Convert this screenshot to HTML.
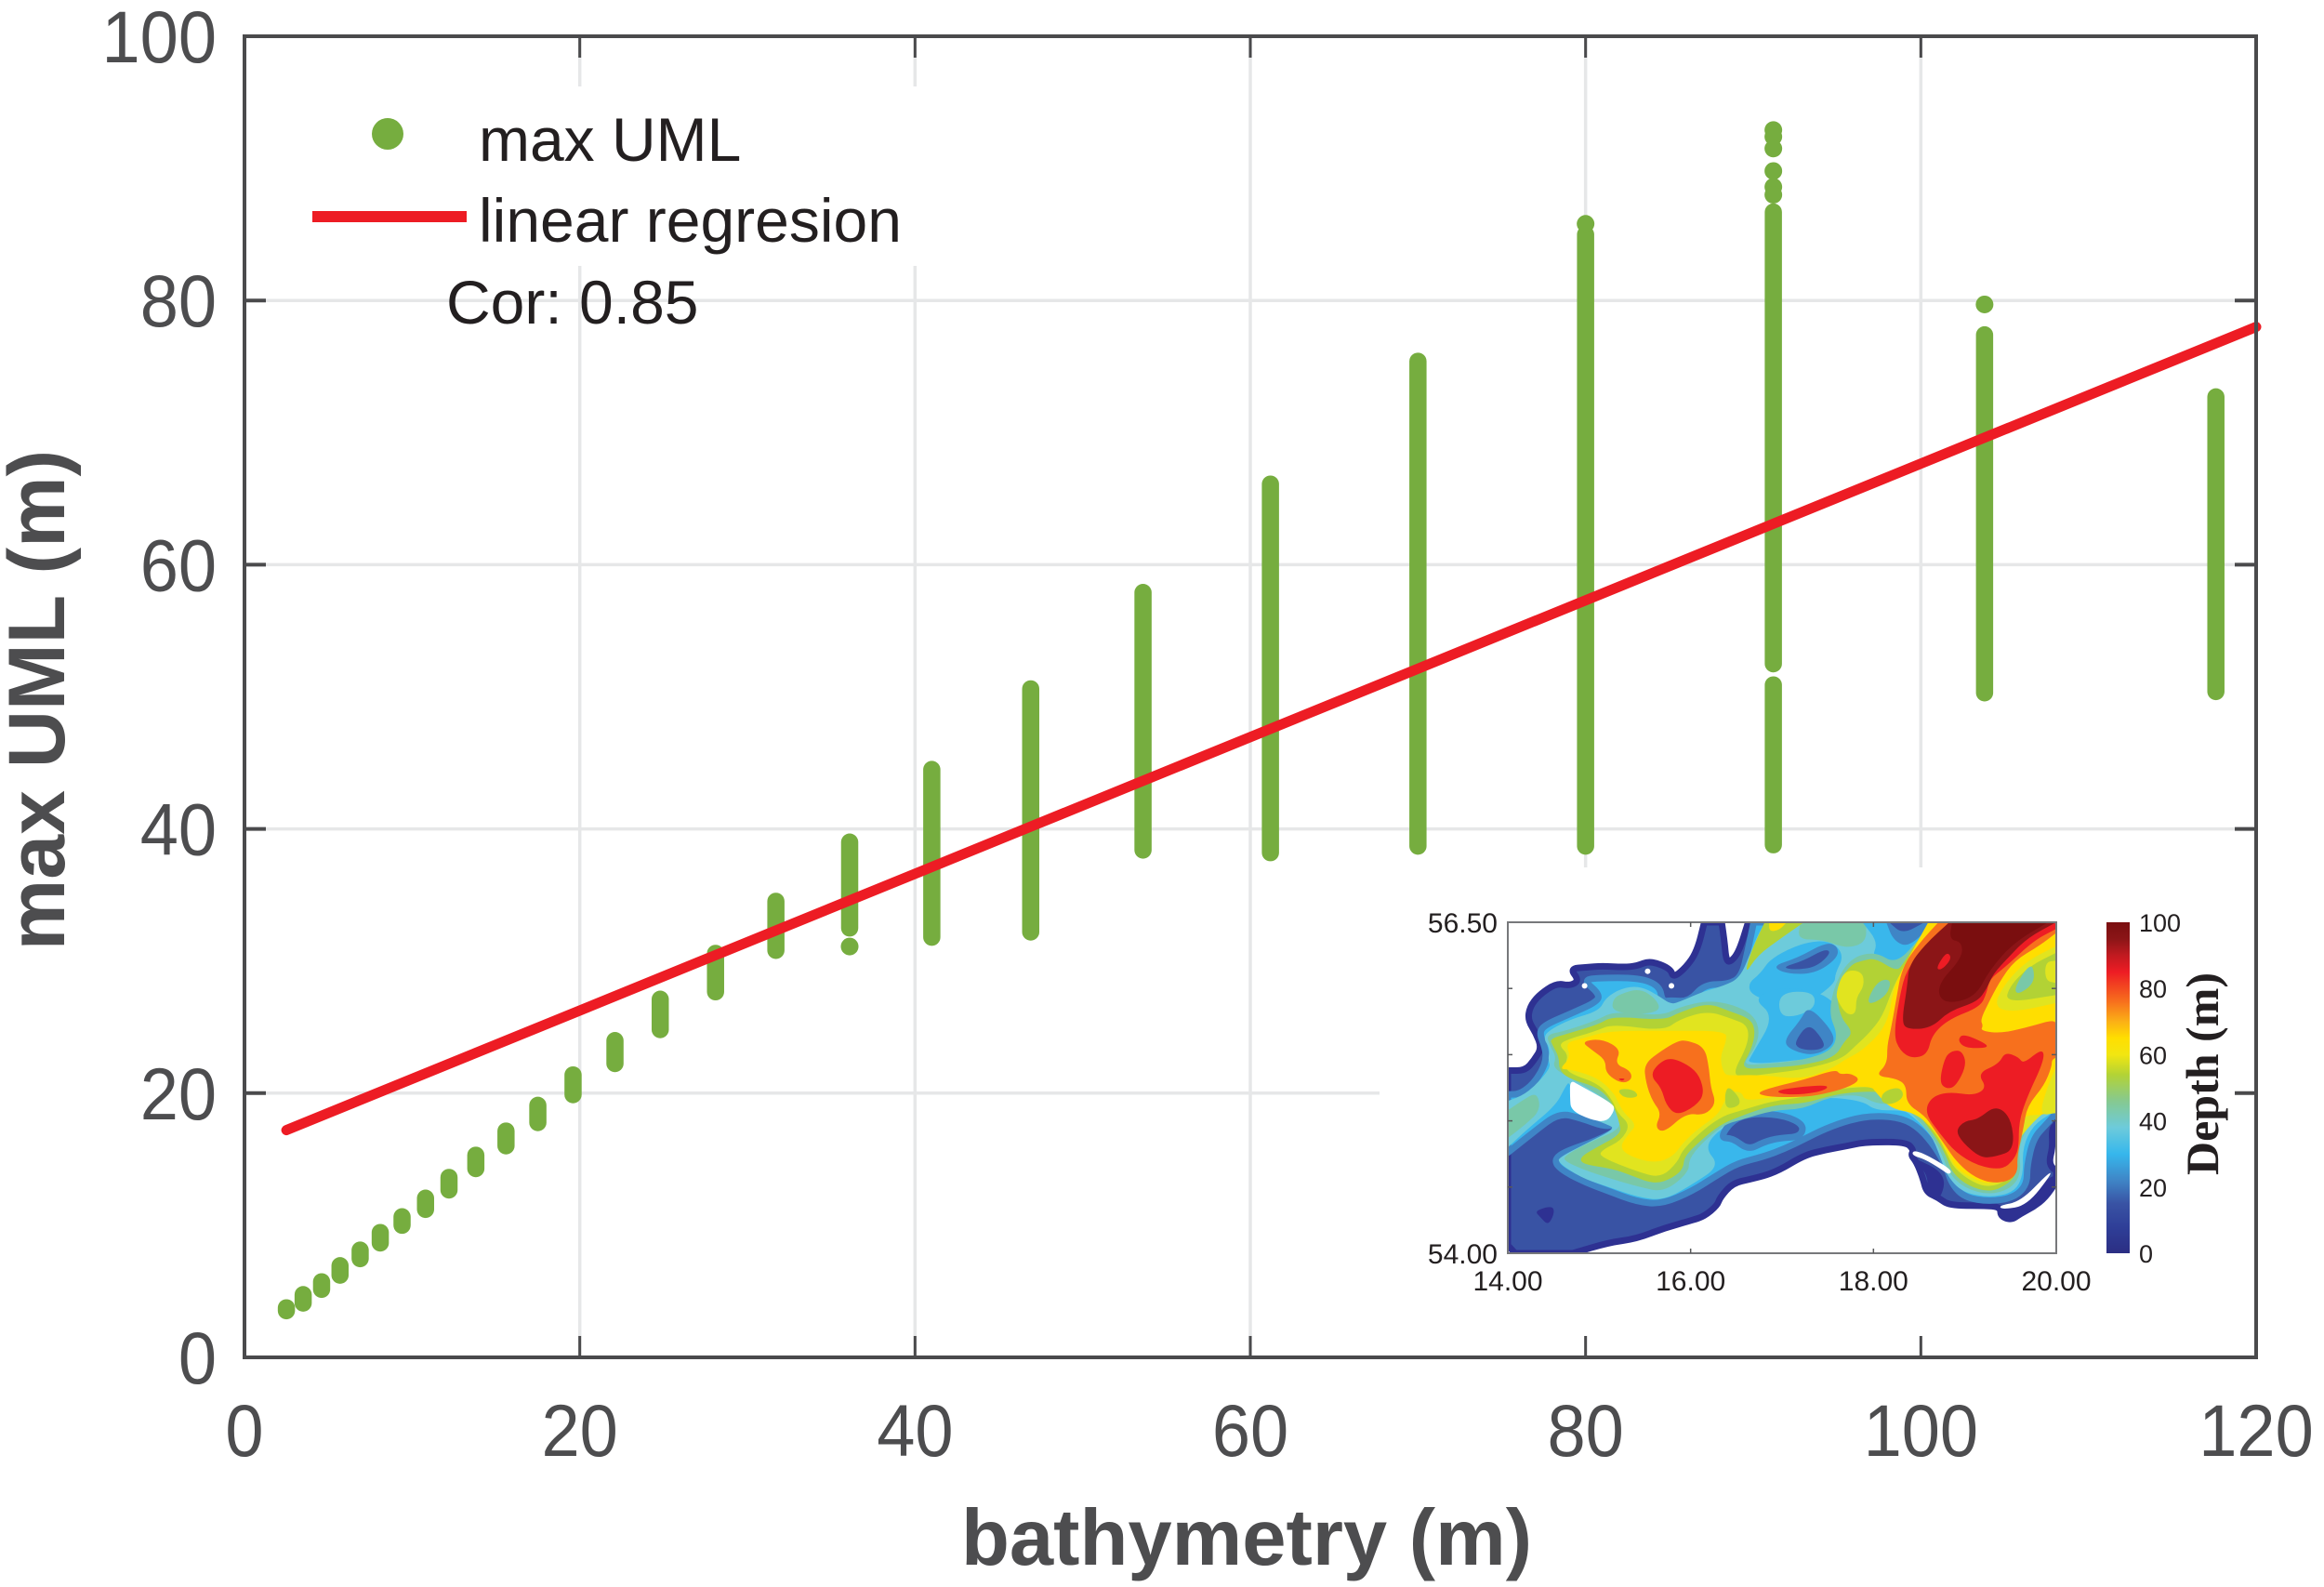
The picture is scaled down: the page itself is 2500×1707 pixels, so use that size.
<!DOCTYPE html>
<html lang="en">
<head>
<meta charset="utf-8">
<title>max UML vs bathymetry</title>
<style>
html,body{margin:0;padding:0;background:#fff;}
svg{display:block;}
text{font-family:"Liberation Sans",sans-serif;}
</style>
</head>
<body>
<svg id="chart" xmlns="http://www.w3.org/2000/svg" width="2500" height="1707" viewBox="0 0 2500 1707">
  <rect x="0" y="0" width="2500" height="1707" fill="#ffffff"/>
  <g id="grid"></g>
  <rect x="267" y="93" width="743" height="193" fill="#ffffff"/>
  <rect x="1484" y="933" width="940" height="524" fill="#ffffff"/>
  <g id="ticks"></g>
  <g id="strips"></g>
  <g id="regression"></g>
  <rect x="263" y="39" width="2164" height="1421" fill="none" stroke="#4a4a4c" stroke-width="4"/>
  <g id="tick-labels"></g>
  <text x="1341" y="1683" font-size="85" font-weight="700" fill="#4d4d4f" text-anchor="middle">bathymetry (m)</text>
  <text transform="translate(69,753) rotate(-90)" font-size="86" font-weight="700" fill="#4d4d4f" text-anchor="middle">max UML (m)</text>

  <g>
    <circle cx="417" cy="144" r="17" fill="#76ad3f"/>
    <text x="515" y="173" font-size="66" fill="#231f20">max UML</text>
    <rect x="336" y="227" width="166" height="12" fill="#ed1c24"/>
    <text x="515" y="260" font-size="66" fill="#231f20">linear regresion</text>
    <text x="480" y="348" font-size="66" fill="#231f20">Cor: 0.85</text>
  </g>

  <g id="inset">
    <defs>
      <clipPath id="mapClip"><rect x="1622" y="992" width="590" height="356"/></clipPath>
      <linearGradient id="cbGrad" x1="0" y1="1" x2="0" y2="0"></linearGradient>
    </defs>
    <g id="map" clip-path="url(#mapClip)"></g>
    <rect x="1622" y="992" width="590" height="356" fill="none" stroke="#77787b" stroke-width="2"/>
    <g id="map-axes"></g>
    <rect x="2266" y="992" width="25" height="356" fill="url(#cbGrad)"/>
    <g id="colorbar-labels"></g>
    <text transform="translate(2386,1155) rotate(-90)" style="font-family:'Liberation Serif',serif" font-size="50" font-weight="700" fill="#231f20" text-anchor="middle">Depth (m)</text>
  </g>
</svg>
<script>
// ---- main chart data ----
const xTickValues = [0, 20, 40, 60, 80, 100, 120];
const yTickValues = [0, 20, 40, 60, 80, 100];
const bathymetry = [2.5,3.5,4.6,5.7,6.9,8.1,9.4,10.8,12.2,13.8,15.6,17.5,19.6,22.1,24.8,28.1,31.7,36.1,41,46.9,53.6,61.2,70,80,91.2,91.2,103.8,117.6];
const umlMin = [3.53,4.11,5.15,6.22,7.47,8.66,10,11.2,12.67,14.29,16.01,17.77,19.88,22.24,24.81,27.67,30.81,32.5,31.8,32.2,38.4,38.2,38.7,38.7,52.5,38.8,50.3,50.4];
const umlMax = [3.75,4.75,5.72,6.94,8.12,9.45,10.64,12.05,13.62,15.3,17.13,19.08,21.38,23.98,27.11,30.58,34.52,39,44.5,50.6,57.9,66.1,75.4,85,86.7,50.9,77.4,72.7];
const isolatedBathymetry = [36.1,80,91.2,91.2,91.2,91.2,91.2,91.2,103.8];
const isolatedUml = [31.1,85.8,92.9,92.4,91.5,89.8,88.6,88,79.7];
const regressionBathymetry = [2.5,120];
const regressionUml = [17.2,78];

// ---- inset data ----
const mapLonTicks = [14,16,18,20];
const mapLatTicks = [54.5,55,55.5,56];
const mapLatLabels = [54,56.5];
const colorbarTicks = [0,20,40,60,80,100];
const colorbarLevels = [0,8,15,22,30,38,46,54,60,65,70,76,85,90,95,100];
const colorbarColors = ['#2b2e83','#2f3f98','#3953a4','#3f85c6','#36b7ec','#6dcbdb','#86c990','#b3d335','#f2e611','#ffde00','#fbb016','#f7701d','#ed1c24','#c11a20','#8b1517','#7a0e10'];
const depthLevels = [10,15,25,30,38,45,52,57,65,75,85,95,100];
const depthLevelColors = ['#2e3192','#3953a4','#3f85c6','#39b7ec','#6dcbdb','#79c8a8','#b2d235','#e1e41f','#ffde00','#f7701d','#ed1c24','#8b1517','#7a0e0f'];

const seaOutline = [[14,55.38],[14.19,55.38],[14.29,55.46],[14.37,55.55],[14.31,55.66],[14.22,55.76],[14.24,55.86],[14.34,55.95],[14.53,56.04],[14.68,56.02],[14.78,56.06],[14.68,56.15],[14.86,56.16],[15.03,56.17],[15.27,56.16],[15.41,56.17],[15.56,56.21],[15.78,56.15],[15.81,56.08],[15.95,56.16],[16.07,56.28],[16.15,56.5],[16.34,56.5],[16.37,56.35],[16.39,56.21],[16.44,56.2],[16.53,56.28],[16.63,56.5],[20,56.5],[20,54.97],[19.95,54.94],[19.96,54.8],[19.92,54.69],[19.97,54.63],[20,54.64],[20,54.54],[19.88,54.42],[19.75,54.35],[19.61,54.3],[19.51,54.25],[19.39,54.28],[19.39,54.35],[19.2,54.36],[18.83,54.36],[18.71,54.42],[18.58,54.46],[18.54,54.57],[18.47,54.69],[18.41,54.74],[18.44,54.78],[18.36,54.84],[17.92,54.84],[17.71,54.81],[17.47,54.78],[17.24,54.74],[16.93,54.61],[16.66,54.56],[16.46,54.53],[16.32,54.42],[16.29,54.36],[16.15,54.28],[16.02,54.25],[15.71,54.19],[15.41,54.11],[15.1,54.08],[14.71,54],[14.08,54],[14,54.06]];
const shallowPatch = [[14.29,54.32],[14.49,54.36],[14.51,54.3],[14.44,54.21],[14.36,54.27]];
const gulfEastShallow = [[19.39,54.35],[19.54,54.37],[19.92,54.57],[20,54.59],[20,54.54],[19.88,54.42],[19.75,54.35],[19.61,54.3],[19.51,54.25],[19.39,54.28]];
const gulfWestShallow = [[18.42,54.73],[18.8,54.6],[18.73,54.39],[18.58,54.46],[18.6,54.58],[18.47,54.69]];
const contour30 = [[14,54.76],[14.29,54.92],[14.56,55.06],[14.8,55.02],[15.08,54.95],[15.22,54.99],[15.25,54.95],[14.97,54.85],[14.63,54.77],[14.51,54.71],[14.56,54.64],[14.83,54.54],[15.1,54.47],[15.41,54.39],[15.68,54.37],[16.02,54.47],[16.29,54.59],[16.51,54.68],[16.8,54.73],[17.03,54.79],[17.24,54.86],[17.47,54.94],[17.75,55.01],[18.02,55.04],[18.32,55.02],[18.51,54.94],[18.68,54.8],[18.8,54.65],[18.86,54.52],[19,54.42],[19.27,54.39],[19.54,54.42],[19.68,54.52],[19.68,54.66],[19.75,54.87],[19.9,54.98],[20,55.06],[20,56.5],[16.69,56.5],[16.63,56.3],[16.56,56.09],[16.41,56.03],[16.15,56.03],[15.98,55.9],[15.78,55.91],[15.69,55.9],[15.66,56.02],[15.44,56.08],[14.97,56.08],[14.83,56.06],[15,55.96],[14.98,55.9],[14.69,55.81],[14.42,55.73],[14.34,55.67],[14.41,55.55],[14.42,55.46],[14.36,55.36],[14.25,55.26],[14.12,55.2],[14,55.2]];
const contour38 = [[14,54.8],[14.22,54.94],[14.53,55.12],[14.63,55.26],[14.68,55.3],[14.75,55.06],[15.1,54.97],[15.17,54.94],[14.86,54.83],[14.58,54.73],[14.54,54.69],[14.8,54.57],[15.1,54.5],[15.44,54.42],[15.71,54.4],[16.02,54.52],[16.32,54.66],[16.15,54.8],[16.32,54.94],[16.66,55.06],[17.03,55.09],[17.24,55.15],[17.51,55.18],[17.88,55.15],[18.02,55.08],[18.29,55.08],[18.39,55.06],[18.63,54.9],[18.73,54.73],[18.8,54.59],[18.97,54.46],[19.27,54.42],[19.54,54.46],[19.64,54.59],[19.63,54.8],[19.75,54.97],[19.95,55.06],[20,55.08],[20,56.5],[16.83,56.5],[16.76,56.44],[16.66,56.28],[16.54,56.08],[16.36,56.02],[16.15,55.98],[15.88,55.9],[15.78,55.88],[15.64,55.95],[15.44,56.02],[15.24,56],[15.07,55.93],[15,55.83],[14.69,55.77],[14.44,55.68],[14.39,55.62],[14.46,55.55],[14.44,55.46],[14.47,55.41],[14.36,55.31],[14.19,55.2],[14,55.15]];
const southBasinDeep = [[16.32,54.87],[16.46,55.01],[16.69,55.06],[17.03,55.04],[17.24,54.97],[17.2,54.88],[16.97,54.87],[16.8,54.84],[16.63,54.78],[16.46,54.87]];
const westTealBlob = [[14,55.08],[14.15,55.15],[14.32,55.22],[14.36,55.08],[14.19,54.97],[14,54.87]];
const northTealBlob = [[15.24,55.96],[15.44,56],[15.61,55.93],[15.68,55.83],[15.41,55.8],[15.14,55.83],[15.15,55.92]];
const northMidTeal = [[17.2,56.5],[17.92,56.5],[17.92,56.35],[17.71,56.3],[17.44,56.37],[17.17,56.37]];
const northSkyBand = [[17.88,56.5],[18.69,56.5],[18.42,56.28],[18.19,56.18],[17.98,56.23],[18.05,56.35]];
const topBasinOuter = [[18.14,56.5],[18.66,56.5],[18.39,56.31],[18.22,56.36]];
const topBasinInner = [[18.17,56.5],[18.56,56.5],[18.32,56.41]];
const skyRingNorth = [[16.88,56.23],[17.24,56.35],[17.54,56.36],[17.68,56.25],[17.58,56.11],[17.58,56.04],[17.31,55.9],[16.97,55.88],[16.66,55.95],[16.63,56.04],[16.76,56.11]];
const skyRingMiddle = [[16.67,55.93],[17.03,56.02],[17.54,55.95],[17.73,55.69],[17.67,55.55],[17.48,55.48],[16.61,55.42],[16.67,55.5],[16.92,55.79]];
const paleMiddleBlob = [[16.97,55.97],[17.34,55.98],[17.37,55.86],[17.17,55.79],[16.97,55.79]];
const basinB2Outer = [[17.01,55.6],[17.2,55.76],[17.29,55.87],[17.54,55.69],[17.58,55.58],[17.36,55.49],[17.11,55.53]];
const basinB2Inner = [[17.14,55.6],[17.29,55.74],[17.44,55.62],[17.47,55.55],[17.32,55.53],[17.17,55.55]];
const basinB1Outer = [[16.89,56.17],[17.17,56.23],[17.48,56.35],[17.61,56.32],[17.61,56.23],[17.36,56.11],[17.04,56.11]];
const basinB1Inner = [[17,56.16],[17.24,56.21],[17.47,56.3],[17.54,56.27],[17.37,56.16],[17.13,56.14]];
const northLimeStrip = [[16.81,56.5],[17.24,56.5],[16.97,56.37],[16.73,56.25],[16.59,56.1],[16.66,56.28]];
const northYellowCap = [[16.86,56.5],[17.05,56.5],[16.97,56.44],[16.86,56.43]];
const contour45 = [[14.42,55.65],[14.63,55.68],[14.97,55.76],[15.14,55.82],[15.41,55.81],[15.71,55.8],[15.88,55.86],[16.19,55.91],[16.46,55.88],[16.69,55.8],[16.76,55.67],[16.69,55.53],[16.56,55.42],[16.83,55.43],[17.24,55.46],[17.54,55.53],[17.61,55.65],[17.51,55.81],[17.58,56.04],[17.75,56.23],[18.02,56.28],[18.25,56.18],[18.53,56.4],[18.66,56.5],[20,56.5],[20,55.08],[19.88,55.06],[19.72,55],[19.58,54.8],[19.62,54.61],[19.51,54.49],[19.27,54.44],[19,54.49],[18.83,54.6],[18.76,54.73],[18.66,54.87],[18.42,55.06],[18.29,55.12],[18.02,55.13],[17.85,55.2],[17.51,55.18],[17.24,55.09],[16.9,55.08],[16.56,55.01],[16.36,54.97],[16.12,54.83],[15.98,54.71],[15.98,54.61],[15.71,54.46],[15.44,54.5],[15.14,54.56],[14.83,54.63],[14.61,54.7],[14.63,54.74],[14.9,54.84],[15.24,54.94],[15.2,55.04],[15.14,55.13],[14.83,55.27],[14.63,55.34],[14.49,55.41],[14.53,55.48],[14.46,55.57]];
const contour52 = [[14.46,55.62],[14.66,55.66],[15,55.73],[15.14,55.79],[15.71,55.76],[15.88,55.82],[16.19,55.89],[16.42,55.83],[16.66,55.77],[16.71,55.67],[16.66,55.53],[16.54,55.39],[16.86,55.4],[17.24,55.42],[17.58,55.48],[17.68,55.6],[17.78,55.67],[17.63,55.79],[17.59,56.02],[17.75,56.18],[17.88,56.21],[18.02,56.23],[18.25,56.13],[18.32,56.18],[18.47,56.35],[18.63,56.5],[20,56.5],[20,55.11],[19.85,55.08],[19.68,55.01],[19.54,54.83],[19.58,54.61],[19.47,54.52],[19.27,54.46],[19.03,54.51],[18.86,54.61],[18.8,54.73],[18.69,54.87],[18.46,55.08],[18.36,55.15],[18.15,55.2],[18.05,55.22],[17.85,55.22],[17.58,55.2],[17.24,55.13],[16.9,55.12],[16.56,55.04],[16.32,54.97],[16.09,54.84],[15.93,54.73],[15.92,54.64],[15.81,54.57],[15.61,54.52],[15.34,54.59],[15.14,54.64],[14.83,54.67],[14.78,54.72],[14.97,54.8],[15.24,54.9],[15.22,54.99],[15.15,55.13],[15,55.25],[14.66,55.32],[14.56,55.39],[14.56,55.48],[14.49,55.57]];
const contour57 = [[14.63,55.61],[14.97,55.68],[15.14,55.73],[15.71,55.68],[15.88,55.77],[16.19,55.83],[16.46,55.77],[16.63,55.72],[16.63,55.58],[16.46,55.36],[16.56,55.33],[16.9,55.36],[17.24,55.39],[17.64,55.46],[17.81,55.57],[17.95,55.66],[18.1,55.79],[18.22,56.02],[18.32,56.14],[18.64,56.5],[20,56.5],[20,55.13],[19.75,55],[19.5,54.78],[19.54,54.61],[19.44,54.54],[19.27,54.5],[19.1,54.53],[18.88,54.64],[18.8,54.76],[18.69,54.9],[18.42,55.12],[18.22,55.22],[18.05,55.25],[17.95,55.26],[17.58,55.24],[17.24,55.18],[16.9,55.15],[16.56,55.08],[16.36,55.04],[16.15,54.94],[15.91,54.78],[15.86,54.69],[15.68,54.57],[15.44,54.61],[15,54.73],[15.03,54.78],[15.24,54.85],[15.34,54.97],[15.2,55.06],[15.15,55.15],[15,55.28],[14.66,55.36],[14.63,55.43],[14.66,55.5],[14.56,55.57]];
const contour65 = [[14.63,55.59],[14.81,55.62],[15.1,55.68],[15.75,55.68],[16.39,55.68],[16.39,55.6],[16.32,55.48],[16.36,55.36],[16.42,55.34],[16.73,55.35],[17.24,55.31],[17.58,55.41],[17.68,55.46],[17.88,55.53],[18.15,55.72],[18.22,56],[18.31,56.14],[18.6,56.5],[20,56.5],[20,55.06],[19.85,55.05],[19.68,55.04],[19.61,55.01],[19.5,54.8],[19.53,54.64],[19.41,54.57],[19.27,54.52],[19.1,54.56],[18.9,54.64],[18.8,54.78],[18.68,54.92],[18.46,55.06],[18.19,55.09],[18.02,55.22],[17.98,55.26],[17.58,55.26],[17.24,55.2],[16.9,55.18],[16.59,55.15],[16.56,55.22],[16.42,55.22],[16.36,55.13],[16.29,55.04],[16.08,54.94],[15.91,54.83],[15.81,54.73],[15.61,54.68],[15.34,54.73],[15.22,54.8],[15.32,54.9],[15.41,54.97],[15.27,55.06],[15.2,55.15],[15.17,55.2],[15,55.32],[14.69,55.39],[14.56,55.39],[14.69,55.48]];
const northEastContour57 = [[20,56.32],[19.68,56.21],[19.44,56.04],[19.31,55.86],[19.54,55.82],[20,55.89]];
const northEastContour52 = [[20,56.27],[19.71,56.17],[19.49,56.02],[19.44,55.89],[20,55.95]];
const northEastTeal = [[19.54,56],[19.68,56.16],[19.75,56.17],[19.76,56.04],[19.58,55.95]];
const northEastLimeEdge = [[19.88,56.2],[20,56.21],[20,56.04],[19.88,56.06]];
const eastEdge57 = [[20,55.41],[20,55.06],[19.81,55.04],[19.91,55.27]];
const ribbonLimeBlob = [[16.42,55.27],[16.58,55.13],[16.39,55.08],[16.37,55.2]];
const islandLimeSpot = [[15.19,55.24],[15.37,55.24],[15.44,55.18],[15.27,55.17]];
const eastLobeLime = [[18.1,55.22],[18.29,55.26],[18.34,55.18],[18.2,55.12],[18.08,55.14]];
const northMidYellowLime = [[17.59,55.97],[17.68,56.14],[17.88,56.13],[17.9,56.02],[17.81,55.93],[17.81,55.81],[17.71,55.8],[17.61,55.9]];
const northMidTealSpot = [[17.93,55.91],[18.05,56.06],[18.2,56.07],[18.15,55.95],[17.98,55.88]];
const westOrangeMain = [[15.49,55.43],[15.68,55.53],[15.85,55.6],[15.95,55.61],[16.15,55.56],[16.2,55.41],[16.22,55.25],[16.28,55.13],[16.15,55.04],[15.95,55.06],[15.71,54.91],[15.61,54.95],[15.68,55.06],[15.58,55.15],[15.51,55.29]];
const westOrangeStreak = [[14.8,55.6],[15.03,55.62],[15.24,55.54],[15.17,55.43],[15.34,55.38],[15.36,55.31],[15.24,55.28],[15.07,55.36],[15.07,55.46],[14.93,55.53]];
const westRedDot = [[15.2,55.32],[15.29,55.32],[15.25,55.3]];
const westRedCore = [[15.56,55.34],[15.64,55.43],[15.78,55.48],[15.98,55.42],[16.1,55.34],[16.15,55.2],[16.05,55.11],[15.85,55.04],[15.73,55.12],[15.68,55.25]];
const ribbonOrange = [[16.71,55.21],[16.93,55.26],[17.24,55.31],[17.59,55.39],[17.63,55.35],[17.75,55.36],[17.86,55.31],[17.71,55.25],[17.44,55.2],[17.24,55.18],[16.86,55.18]];
const ribbonRed = [[16.93,55.23],[17.24,55.26],[17.51,55.27],[17.47,55.23],[17.24,55.2],[17,55.2]];
const eastOrange = [[18.71,56.5],[20,56.5],[20,56.42],[19.81,56.32],[19.54,56.21],[19.37,56.04],[19.25,55.88],[19.17,55.76],[19.2,55.72],[19.17,55.68],[19.41,55.66],[19.75,55.72],[19.95,55.76],[20,55.74],[20,55.48],[19.95,55.46],[19.95,55.41],[19.87,55.27],[19.68,55.11],[19.64,54.94],[19.57,54.73],[19.58,54.61],[19.47,54.54],[19.27,54.53],[19.07,54.59],[18.9,54.7],[18.8,54.8],[18.66,54.94],[18.56,55.04],[18.36,55.13],[18.36,55.27],[18.25,55.32],[18.02,55.34],[18.15,55.43],[18.15,55.57],[18.19,55.69],[18.24,55.88],[18.31,56.16],[18.51,56.35]];
const northEastRed = [[18.83,56.5],[20,56.5],[20,56.45],[19.75,56.36],[19.44,56.16],[19.27,56.07],[19.24,55.97],[19.17,55.86],[18.83,55.77],[18.64,55.65],[18.59,55.5],[18.42,55.47],[18.29,55.53],[18.22,55.65],[18.29,55.95],[18.36,56.14],[18.56,56.31]];
const northEastMaroon = [[18.83,56.5],[20,56.5],[19.68,56.38],[19.47,56.23],[19.31,56.11],[19.24,56],[19.14,55.9],[18.83,55.83],[18.63,55.7],[18.36,55.69],[18.31,55.76],[18.37,56.02],[18.39,56.18],[18.59,56.35]];
const northEastDeepest = [[18.86,56.5],[19.91,56.5],[19.54,56.35],[19.27,56.14],[19.11,55.93],[18.76,55.88],[18.69,56.02],[18.97,56.23],[18.97,56.35],[18.83,56.37]];
const maroonRedSpot = [[18.68,56.15],[18.8,56.28],[18.86,56.23],[18.75,56.14]];
const eastRedSpot = [[18.92,55.61],[18.98,55.66],[19.24,55.58],[19.24,55.55],[19,55.55]];
const eastRedLong = [[18.86,55.53],[18.97,55.53],[19.02,55.42],[18.9,55.26],[18.8,55.24],[18.72,55.29],[18.78,55.48]];
const eastRedMain = [[19.14,55.36],[19.37,55.43],[19.44,55.52],[19.59,55.48],[19.64,55.43],[19.85,55.55],[19.87,55.46],[19.68,55.18],[19.59,54.99],[19.59,54.8],[19.54,54.71],[19.41,54.63],[19.14,54.66],[18.9,54.76],[18.73,54.9],[18.56,55.06],[18.63,55.18],[18.83,55.22],[19.1,55.19],[19.24,55.25]];
const southEastMaroon = [[18.9,54.93],[19,55],[19.14,55.01],[19.34,55.12],[19.51,55.02],[19.54,54.78],[19.34,54.73],[19.17,54.72],[18.97,54.84]];
const landIsland = [[14.68,55.31],[14.78,55.27],[15.15,55.13],[15.17,55.08],[15.08,54.99],[14.9,55.01],[14.69,55.08],[14.68,55.18]];
const landStripWest = [[18.44,54.78],[18.59,54.74],[18.86,54.63],[18.83,54.59],[18.73,54.64],[18.56,54.71],[18.42,54.74]];
const landStripEast = [[19.37,54.36],[19.61,54.39],[19.92,54.61],[19.95,54.6],[19.68,54.36],[19.41,54.33]];
const landSpotLon = [14.84,15.79,15.53];
const landSpotLat = [56.02,56.02,56.13];

// depth level, outline, and optional edge band depth
const contourStack = [
  [15, seaOutline, 10],
  [10, shallowPatch, null],
  [10, gulfEastShallow, null],
  [10, gulfWestShallow, null],
  [30, contour30, 25],
  [38, contour38, null],
  [15, southBasinDeep, 25],
  [45, westTealBlob, null],
  [45, northTealBlob, null],
  [45, northMidTeal, null],
  [30, northSkyBand, null],
  [25, topBasinOuter, null],
  [15, topBasinInner, null],
  [30, skyRingNorth, null],
  [30, skyRingMiddle, null],
  [38, paleMiddleBlob, null],
  [25, basinB2Outer, null],
  [15, basinB2Inner, null],
  [25, basinB1Outer, null],
  [15, basinB1Inner, null],
  [52, northLimeStrip, null],
  [65, northYellowCap, null],
  [45, contour45, null],
  [52, contour52, null],
  [57, contour57, null],
  [65, contour65, null],
  [57, northEastContour57, null],
  [52, northEastContour52, null],
  [45, northEastTeal, null],
  [57, northEastLimeEdge, null],
  [57, eastEdge57, null],
  [52, ribbonLimeBlob, null],
  [52, islandLimeSpot, null],
  [52, eastLobeLime, null],
  [57, northMidYellowLime, null],
  [45, northMidTealSpot, null],
  [75, westOrangeMain, null],
  [75, westOrangeStreak, null],
  [85, westRedDot, null],
  [85, westRedCore, null],
  [75, ribbonOrange, null],
  [85, ribbonRed, null],
  [75, eastOrange, null],
  [85, northEastRed, null],
  [95, northEastMaroon, null],
  [100, northEastDeepest, null],
  [85, maroonRedSpot, null],
  [85, eastRedSpot, null],
  [85, eastRedLong, null],
  [85, eastRedMain, null],
  [95, southEastMaroon, null]
];
const landOutlines = [landIsland, landStripWest, landStripEast];

// ---- scales ----
const NS = 'http://www.w3.org/2000/svg';
const plot = {left:263, right:2427, top:39, bottom:1460};
const xScale = v => plot.left + (v/120)*(plot.right-plot.left);
const yScale = v => plot.bottom - (v/100)*(plot.bottom-plot.top);
const map = {left:1622, right:2212, top:992, bottom:1348};
const lonScale = v => map.left + ((v-14)/6)*(map.right-map.left);
const latScale = v => map.bottom - ((v-54)/2.5)*(map.bottom-map.top);
const cbScale = v => map.bottom - (v/100)*(map.bottom-map.top);
const depthColor = d => depthLevelColors[depthLevels.indexOf(d)];

function make(tag, attrs, parent, text){
  const el = document.createElementNS(NS, tag);
  for (const k in attrs) el.setAttribute(k, attrs[k]);
  if (text !== undefined) el.textContent = text;
  parent.appendChild(el);
  return el;
}

// ---- grid and ticks ----
const gridG = document.getElementById('grid');
const ticksG = document.getElementById('ticks');
const labelsG = document.getElementById('tick-labels');
xTickValues.forEach(v => {
  const x = xScale(v);
  if (v > 0 && v < 120) {
    const g = make('line', {x1:x, x2:x, y1:plot.top, y2:plot.bottom, stroke:'#e6e7e8', 'stroke-width':3.5}, gridG);
    
    
    const t1 = make('line', {x1:x, x2:x, y1:plot.top, y2:plot.top+23, stroke:'#4a4a4c', 'stroke-width':3}, ticksG);
    
    
    const t2 = make('line', {x1:x, x2:x, y1:plot.bottom, y2:plot.bottom-23, stroke:'#4a4a4c', 'stroke-width':3}, ticksG);
    
    
  }
  const l = make('text', {transform:'translate('+x+',1566) scale(1,1.07)', 'font-size':74, fill:'#4d4d4f', 'text-anchor':'middle'}, labelsG, String(v));
  
  
});
yTickValues.forEach(v => {
  const y = yScale(v);
  if (v > 0 && v < 100) {
    const g = make('line', {x1:plot.left, x2:plot.right, y1:y, y2:y, stroke:'#e6e7e8', 'stroke-width':3.5}, gridG);
    
    
    const t1 = make('line', {x1:plot.left, x2:plot.left+23, y1:y, y2:y, stroke:'#4a4a4c', 'stroke-width':4}, ticksG);
    
    
    const t2 = make('line', {x1:plot.right, x2:plot.right-23, y1:y, y2:y, stroke:'#4a4a4c', 'stroke-width':4}, ticksG);
    
    
  }
  const l = make('text', {transform:'translate(233,'+(y+28)+') scale(1,1.07)', 'font-size':74, fill:'#4d4d4f', 'text-anchor':'end'}, labelsG, String(v));
  
  
});

// ---- series ----
const stripsG = document.getElementById('strips');
bathymetry.forEach((b, i) => {
  const s = make('line', {x1:xScale(b), x2:xScale(b), y1:yScale(umlMin[i]), y2:yScale(umlMax[i]), stroke:'#76ad3f', 'stroke-width':18.5, 'stroke-linecap':'round'}, stripsG);
  
  
});
isolatedBathymetry.forEach((b, i) => {
  const c = make('circle', {cx:xScale(b), cy:yScale(isolatedUml[i]), r:9.5, fill:'#76ad3f'}, stripsG);
  
  
});
const regG = document.getElementById('regression');
const regLine = make('line', {x1:xScale(regressionBathymetry[0]), y1:yScale(regressionUml[0]), x2:xScale(regressionBathymetry[1]), y2:yScale(regressionUml[1]), stroke:'#ed1c24', 'stroke-width':11, 'stroke-linecap':'round'}, regG);



// ---- inset map ----
const mapG = document.getElementById('map');
// rounded outline: vertices on the map frame stay sharp, the rest are curved
function toPath(pts){
  const n = pts.length;
  const sx = p => lonScale(p[0]);
  const sy = p => latScale(p[1]);
  const mid = (a, b) => [(sx(a)+sx(b))/2, (sy(a)+sy(b))/2];
  const onFrame = p => p[0] === 14 || p[0] === 20 || p[1] === 54 || p[1] === 56.5;
  const first = mid(pts[n-1], pts[0]);
  let d = 'M' + first[0].toFixed(1) + ' ' + first[1].toFixed(1);
  for (let i = 0; i < n; i++) {
    const v = pts[i];
    const b = mid(v, pts[(i+1)%n]);
    if (onFrame(v)) {
      d += 'L' + sx(v).toFixed(1) + ' ' + sy(v).toFixed(1) + 'L' + b[0].toFixed(1) + ' ' + b[1].toFixed(1);
    } else {
      d += 'Q' + sx(v).toFixed(1) + ' ' + sy(v).toFixed(1) + ' ' + b[0].toFixed(1) + ' ' + b[1].toFixed(1);
    }
  }
  return d + 'Z';
}
contourStack.forEach(entry => {
  const attrs = {d:toPath(entry[1]), fill:depthColor(entry[0])};
  if (entry[2] !== null) {
    attrs.stroke = depthColor(entry[2]);
    attrs['stroke-width'] = 7;
    attrs['stroke-linejoin'] = 'round';
  }
  const p = make('path', attrs, mapG);
  
  
});
landOutlines.forEach(o => {
  const p = make('path', {d:toPath(o), fill:'#ffffff'}, mapG);
  
  
});
landSpotLon.forEach((lon, i) => {
  const c = make('circle', {cx:lonScale(lon), cy:latScale(landSpotLat[i]), r:3, fill:'#ffffff'}, mapG);
  
  
});

// ---- inset axes ----
const mapAxesG = document.getElementById('map-axes');
mapLonTicks.forEach(v => {
  const x = lonScale(v);
  if (v > 14 && v < 20) {
    const a = make('line', {x1:x, x2:x, y1:map.top, y2:map.top+5, stroke:'#58595b', 'stroke-width':1.5}, mapAxesG);
    
    
    const b = make('line', {x1:x, x2:x, y1:map.bottom, y2:map.bottom-5, stroke:'#58595b', 'stroke-width':1.5}, mapAxesG);
    
    
  }
  const l = make('text', {x:x, y:1388, 'font-size':30, fill:'#231f20', 'text-anchor':'middle'}, mapAxesG, v.toFixed(2));
  
  
});
mapLatTicks.forEach(v => {
  const y = latScale(v);
  const a = make('line', {x1:map.left, x2:map.left+5, y1:y, y2:y, stroke:'#58595b', 'stroke-width':1.5}, mapAxesG);
  
  
  const b = make('line', {x1:map.right, x2:map.right-5, y1:y, y2:y, stroke:'#58595b', 'stroke-width':1.5}, mapAxesG);
  
  
});
mapLatLabels.forEach(v => {
  const l = make('text', {x:1611, y:latScale(v)+11, 'font-size':30, fill:'#231f20', 'text-anchor':'end'}, mapAxesG, v.toFixed(2));
  
  
});

// ---- colorbar ----
const grad = document.getElementById('cbGrad');
colorbarLevels.forEach((lv, i) => {
  make('stop', {offset:(lv/100), 'stop-color':colorbarColors[i]}, grad);
});
const cbG = document.getElementById('colorbar-labels');
colorbarTicks.forEach(v => {
  const l = make('text', {x:2301, y:cbScale(v)+10, 'font-size':27, fill:'#231f20'}, cbG, String(v));
  
  
});
</script>
</body>
</html>
